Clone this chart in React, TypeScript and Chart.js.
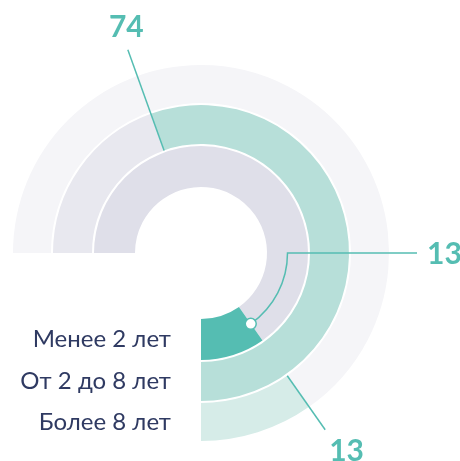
import React, { useEffect, useRef } from "react";
import { Chart, registerables } from "chart.js";

Chart.register(...registerables);

// Categories (inner ring first) and their values (percent of a 270° track)
const categories = ["Менее 2 лет", "От 2 до 8 лет", "Более 8 лет"];
const values = [13, 74, 13];
const maxValue = 100;

const valueColors = ["#55bdb2", "#b7dfd9", "#d6ece8"];
const trackColors = ["#dfdfe9", "#e8e8ef", "#f5f5f8"];
const ringWeights = [41, 39, 38];
const gapWeight = 2;

const TEAL = "#55bdb2";
const LABEL_COLOR = "#2f3a62";

export default function App() {
  const ref = useRef<HTMLCanvasElement | null>(null);

  useEffect(() => {
    const canvas = ref.current;
    if (!canvas) return;

    // Chart.js draws the first dataset outermost: outer ring = last category
    const order = [2, 1, 0];
    const datasets: any[] = [];
    const dataIndexOfDataset: number[] = [];
    order.forEach((ci, k) => {
      datasets.push({
        label: categories[ci],
        data: [maxValue - values[ci], values[ci]],
        backgroundColor: [trackColors[ci], valueColors[ci]],
        borderWidth: 0,
        weight: ringWeights[ci],
      });
      dataIndexOfDataset.push(ci);
      if (k < order.length - 1) {
        datasets.push({
          label: "gap",
          data: [1],
          backgroundColor: ["rgba(0,0,0,0)"],
          borderWidth: 0,
          weight: gapWeight,
        });
        dataIndexOfDataset.push(-1);
      }
    });

    const labelsPlugin = {
      id: "ringLabels",
      afterDatasetsDraw(chart: any) {
        const ctx = chart.ctx as CanvasRenderingContext2D;
        const outerMost = chart.getDatasetMeta(0).data[0] as any;
        const R = outerMost.outerRadius;
        const lineEndR = R + 28;
        ctx.save();
        datasets.forEach((ds, di) => {
          const ci = dataIndexOfDataset[di];
          if (ci < 0) return;
          const meta = chart.getDatasetMeta(di);
          const arc = meta.data[1] as any;
          const { x, y, startAngle, innerRadius, outerRadius } = arc;
          const mid = (innerRadius + outerRadius) / 2;

          // category label, right-aligned left of the bottom end of the ring
          ctx.font = "24px Lato, 'Noto Sans', sans-serif";
          ctx.fillStyle = LABEL_COLOR;
          ctx.textAlign = "right";
          ctx.textBaseline = "middle";
          ctx.fillText(categories[ci], x - 30, y + mid);

          const a = startAngle;
          ctx.strokeStyle = TEAL;
          ctx.lineWidth = 1.5;
          ctx.font = "bold 30px Lato, 'Noto Sans', sans-serif";
          ctx.fillStyle = TEAL;
          if (ci === 0) {
            // inner ring: dot on the ring, leader along the ring to 3 o'clock, then right
            ctx.beginPath();
            ctx.arc(x, y, mid, a, 0, true);
            ctx.lineTo(x + lineEndR, y);
            ctx.stroke();
            ctx.beginPath();
            ctx.arc(x + mid * Math.cos(a), y + mid * Math.sin(a), 5.5, 0, Math.PI * 2);
            ctx.fillStyle = "#ffffff";
            ctx.fill();
            ctx.stroke();
            ctx.fillStyle = TEAL;
            ctx.textAlign = "left";
            ctx.textBaseline = "middle";
            ctx.fillText(String(values[ci]), x + lineEndR + 10, y + 1);
          } else {
            const cx = Math.cos(a);
            const sy = Math.sin(a);
            ctx.beginPath();
            ctx.moveTo(x + innerRadius * cx, y + innerRadius * sy);
            ctx.lineTo(x + lineEndR * cx, y + lineEndR * sy);
            ctx.stroke();
            const tr = lineEndR + 25;
            ctx.textAlign = "center";
            ctx.textBaseline = "middle";
            ctx.fillText(String(values[ci]), x + tr * cx + 7, y + tr * sy + 1);
          }
        });
        ctx.restore();
      },
    };

    const chart = new Chart(canvas, {
      type: "doughnut",
      data: { labels: ["track", "value"], datasets },
      options: {
        responsive: false,
        animation: false,
        rotation: -90,
        circumference: 270,
        cutout: 66,
        layout: { padding: { left: 13, top: 65, right: 71, bottom: 20 } },
        plugins: { legend: { display: false }, tooltip: { enabled: false } },
        events: [],
      } as any,
      plugins: [labelsPlugin],
    });
    return () => chart.destroy();
  }, []);

  return (
    <div style={{ position: "absolute", left: 0, top: 0, width: 460, height: 461, background: "#fff" }}>
      <canvas ref={ref} width={460} height={461} style={{ display: "block" }} />
    </div>
  );
}
